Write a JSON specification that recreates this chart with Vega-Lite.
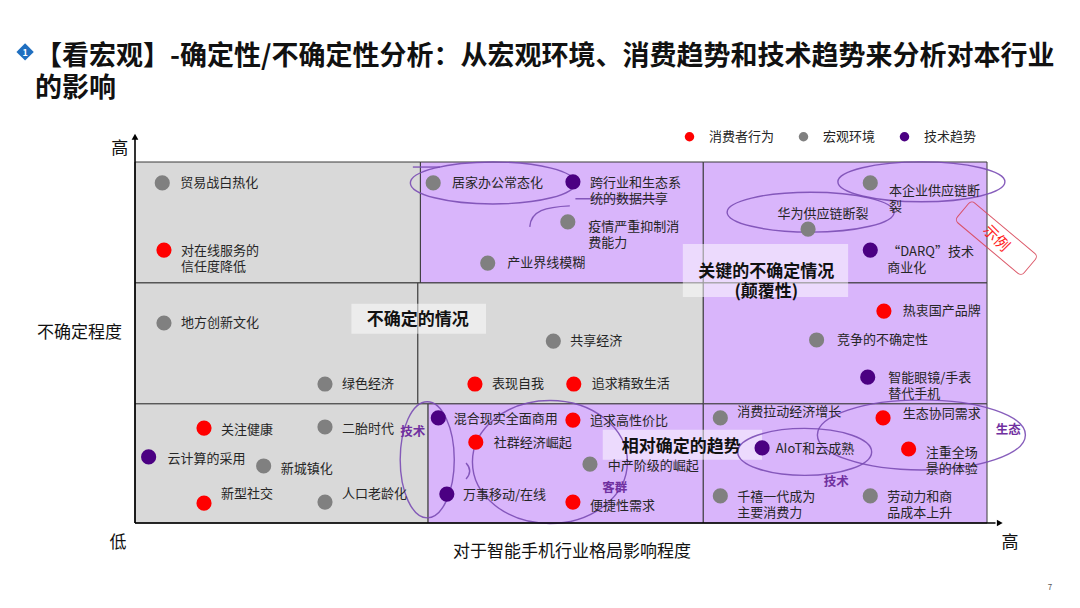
{
  "$schema": "https://vega.github.io/schema/vega-lite/v6.json",
  "width": 852,
  "height": 361,
  "autosize": {"type": "none"},
  "padding": {"left": 135, "top": 162, "right": 93, "bottom": 85},
  "background": "white",
  "config": {"view": {"stroke": null}, "font": "Noto Sans CJK SC", "text": {"font": "Noto Sans CJK SC"}},
  "title": {
    "text": ["【看宏观】-确定性/不确定性分析：从宏观环境、消费趋势和技术趋势来分析对本行业", "的影响"],
    "anchor": "start", "frame": "group", "dx": -100, "offset": -60,
    "fontSize": 27, "fontWeight": "bold", "font": "Noto Sans CJK SC", "color": "#111111", "lineHeight": 32
  },
  "datasets": {
    "cells": [
      {"x1": 0, "x2": 33.5, "y1": 66.5, "y2": 100, "kind": "灰"},
      {"x1": 33.5, "x2": 66.7, "y1": 66.5, "y2": 100, "kind": "紫"},
      {"x1": 66.7, "x2": 100, "y1": 66.5, "y2": 100, "kind": "紫"},
      {"x1": 0, "x2": 33.2, "y1": 33, "y2": 66.5, "kind": "灰"},
      {"x1": 33.2, "x2": 66.7, "y1": 33, "y2": 66.5, "kind": "灰"},
      {"x1": 66.7, "x2": 100, "y1": 33, "y2": 66.5, "kind": "紫"},
      {"x1": 0, "x2": 34.4, "y1": 0, "y2": 33, "kind": "灰"},
      {"x1": 34.4, "x2": 66.7, "y1": 0, "y2": 33, "kind": "紫"},
      {"x1": 66.7, "x2": 100, "y1": 0, "y2": 33, "kind": "紫"}
    ],
    "boxes": [
      {"x1": 64.3, "x2": 83.7, "y1": 62.6, "y2": 77.3},
      {"x1": 25.4, "x2": 41.2, "y1": 52.4, "y2": 60.7},
      {"x1": 54.9, "x2": 73.6, "y1": 17.5, "y2": 25.8}
    ],
    "notes": [
      {"x": 74.1, "y": 69.5, "text": ["关键的不确定情况", "(颠覆性)"]},
      {"x": 33.2, "y": 56.2, "text": "不确定的情况"},
      {"x": 64.1, "y": 21.1, "text": "相对确定的趋势"}
    ],
    "tags": [
      {"x": 32.6, "y": 25.2, "text": "技术"},
      {"x": 56.3, "y": 9.7, "text": "客群"},
      {"x": 102.5, "y": 25.8, "text": "生态"},
      {"x": 82.3, "y": 11.4, "text": "技术"}
    ],
    "shapes": [
      {"id": "E1", "x": 92.3, "y": 94.5},
      {"id": "E2", "x": 79.3, "y": 86.1},
      {"id": "E3", "x": 42.0, "y": 94.2},
      {"id": "E4", "x": 34.3, "y": 17.5},
      {"id": "E5", "x": 48.7, "y": 16.9},
      {"id": "E6", "x": 78.6, "y": 19.7},
      {"id": "E7", "x": 92.3, "y": 24.4},
      {"id": "A1", "x": 48.8, "y": 84.8},
      {"id": "L1", "x": 56.5, "y": 89.8},
      {"id": "L2", "x": 34.2, "y": 98.6},
      {"id": "P1", "x": 39.1, "y": 14.4}
    ],
    "points": [
      {"name": "贸易战白热化", "cat": "宏观环境", "x": 3.2, "y": 94.2, "lx": 5.3, "ly": 94.2},
      {"name": ["对在线服务的", "信任度降低"], "cat": "消费者行为", "x": 3.4, "y": 75.6, "lx": 5.4, "ly": 75.3},
      {"name": "居家办公常态化", "cat": "宏观环境", "x": 35.0, "y": 94.2, "lx": 37.2, "ly": 94.2},
      {"name": ["跨行业和生态系", "统的数据共享"], "cat": "技术趋势", "x": 51.4, "y": 94.5, "lx": 53.4, "ly": 94.2},
      {"name": ["疫情严重抑制消", "费能力"], "cat": "宏观环境", "x": 50.8, "y": 83.4, "lx": 53.2, "ly": 82.0},
      {"name": "产业界线模糊", "cat": "宏观环境", "x": 41.4, "y": 72.0, "lx": 43.7, "ly": 72.0},
      {"name": ["本企业供应链断", "裂"], "cat": "宏观环境", "x": 86.3, "y": 94.2, "lx": 88.5, "ly": 92.0},
      {"name": "华为供应链断裂", "cat": "宏观环境", "x": 79.0, "y": 81.4, "lx": 75.4, "ly": 85.6},
      {"name": ["“DARQ”技术", "商业化"], "cat": "技术趋势", "x": 86.3, "y": 75.6, "lx": 88.3, "ly": 75.1},
      {"name": "地方创新文化", "cat": "宏观环境", "x": 3.4, "y": 55.4, "lx": 5.4, "ly": 55.4},
      {"name": "绿色经济", "cat": "宏观环境", "x": 22.3, "y": 38.5, "lx": 24.3, "ly": 38.5},
      {"name": "共享经济", "cat": "宏观环境", "x": 49.1, "y": 50.4, "lx": 51.1, "ly": 50.4},
      {"name": "表现自我", "cat": "消费者行为", "x": 39.9, "y": 38.5, "lx": 41.9, "ly": 38.5},
      {"name": "追求精致生活", "cat": "消费者行为", "x": 51.5, "y": 38.5, "lx": 53.6, "ly": 38.5},
      {"name": "热衷国产品牌", "cat": "消费者行为", "x": 87.9, "y": 58.7, "lx": 90.1, "ly": 58.7},
      {"name": "竞争的不确定性", "cat": "宏观环境", "x": 80.0, "y": 50.7, "lx": 82.4, "ly": 50.7},
      {"name": ["智能眼镜/手表", "替代手机"], "cat": "技术趋势", "x": 86.0, "y": 40.4, "lx": 88.4, "ly": 40.2},
      {"name": "关注健康", "cat": "消费者行为", "x": 8.1, "y": 26.3, "lx": 10.1, "ly": 25.8},
      {"name": "二胎时代", "cat": "宏观环境", "x": 22.3, "y": 26.6, "lx": 24.3, "ly": 26.0},
      {"name": "云计算的采用", "cat": "技术趋势", "x": 1.6, "y": 18.3, "lx": 3.8, "ly": 17.7},
      {"name": "新城镇化", "cat": "宏观环境", "x": 15.1, "y": 15.8, "lx": 17.1, "ly": 15.0},
      {"name": "新型社交", "cat": "消费者行为", "x": 8.1, "y": 5.5, "lx": 10.1, "ly": 8.0},
      {"name": "人口老龄化", "cat": "宏观环境", "x": 22.3, "y": 5.8, "lx": 24.3, "ly": 8.0},
      {"name": "混合现实全面商用", "cat": "技术趋势", "x": 35.6, "y": 29.1, "lx": 37.4, "ly": 28.8},
      {"name": "追求高性价比", "cat": "消费者行为", "x": 51.4, "y": 28.5, "lx": 53.4, "ly": 28.3},
      {"name": "社群经济崛起", "cat": "消费者行为", "x": 40.0, "y": 22.4, "lx": 42.1, "ly": 22.2},
      {"name": "中产阶级的崛起", "cat": "宏观环境", "x": 53.4, "y": 16.3, "lx": 55.5, "ly": 15.8},
      {"name": "万事移动/在线", "cat": "技术趋势", "x": 36.6, "y": 8.0, "lx": 38.5, "ly": 7.8},
      {"name": "便捷性需求", "cat": "消费者行为", "x": 51.4, "y": 5.8, "lx": 53.4, "ly": 4.7},
      {"name": "消费拉动经济增长", "cat": "宏观环境", "x": 68.7, "y": 29.1, "lx": 70.7, "ly": 30.7},
      {"name": "生态协同需求", "cat": "消费者行为", "x": 87.8, "y": 29.1, "lx": 90.1, "ly": 30.2},
      {"name": "AIoT和云成熟", "cat": "技术趋势", "x": 73.6, "y": 20.8, "lx": 75.2, "ly": 20.5},
      {"name": ["注重全场", "景的体验"], "cat": "消费者行为", "x": 90.8, "y": 20.5, "lx": 92.8, "ly": 19.4},
      {"name": ["千禧一代成为", "主要消费力"], "cat": "宏观环境", "x": 68.7, "y": 7.5, "lx": 70.7, "ly": 7.2},
      {"name": ["劳动力和商", "品成本上升"], "cat": "宏观环境", "x": 86.3, "y": 7.5, "lx": 88.3, "ly": 7.2}
    ],
    "axisLines": [
      {"x1": 0, "y1": 0, "x2": 101.0, "y2": 0},
      {"x1": 0, "y1": 0, "x2": 0, "y2": 106.5}
    ],
    "axisText": [
      {"x": -1.8, "y": 103.6, "text": "高"},
      {"x": -2.0, "y": -5.5, "text": "低"},
      {"x": 102.7, "y": -5.5, "text": "高"},
      {"x": -6.5, "y": 52.6, "text": "不确定程度"},
      {"x": 51.3, "y": -8.0, "text": "对于智能手机行业格局影响程度"}
    ]
  },
  "layer": [
    {
      "data": {"name": "cells"},
      "mark": {"type": "rect", "stroke": "#3a3a3a", "strokeWidth": 1},
      "encoding": {
        "x": {"field": "x1", "type": "quantitative", "scale": {"domain": [0, 100], "nice": false, "zero": false}, "axis": null},
        "x2": {"field": "x2"},
        "y": {"field": "y1", "type": "quantitative", "scale": {"domain": [0, 100], "nice": false, "zero": false}, "axis": null},
        "y2": {"field": "y2"},
        "fill": {"field": "kind", "type": "nominal", "scale": {"domain": ["灰", "紫"], "range": ["#d9d9d9", "#d9b5fb"]}, "legend": null}
      }
    },
    {
      "data": {"name": "boxes"},
      "mark": {"type": "rect", "color": "#ffffff", "opacity": 0.5},
      "encoding": {
        "x": {"field": "x1", "type": "quantitative", "scale": {"domain": [0, 100], "nice": false, "zero": false}, "axis": null},
        "x2": {"field": "x2"},
        "y": {"field": "y1", "type": "quantitative", "scale": {"domain": [0, 100], "nice": false, "zero": false}, "axis": null},
        "y2": {"field": "y2"}
      }
    },
    {
      "data": {"name": "shapes"},
      "mark": {"type": "point", "filled": false, "color": "#7b4db5", "strokeWidth": 1.4, "size": 43264, "opacity": 0.9},
      "encoding": {
        "x": {"field": "x", "type": "quantitative", "scale": {"domain": [0, 100], "nice": false, "zero": false}, "axis": null},
        "y": {"field": "y", "type": "quantitative", "scale": {"domain": [0, 100], "nice": false, "zero": false}, "axis": null},
        "shape": {
          "field": "id", "type": "nominal", "legend": null,
          "scale": {
            "domain": ["E1", "E2", "E3", "E4", "E5", "E6", "E7", "A1", "L1", "L2", "P1"],
            "range": [
              "M -0.803 0 A 0.803 0.192 0 1 0 0.803 0 A 0.803 0.192 0 1 0 -0.803 0 Z",
              "M -0.803 0 A 0.803 0.192 0 1 0 0.803 0 A 0.803 0.192 0 1 0 -0.803 0 Z",
              "M -0.793 0 A 0.793 0.202 0 1 0 0.793 0 A 0.793 0.202 0 1 0 -0.793 0 Z",
              "M -0.26 0 A 0.26 0.558 0 1 0 0.26 0 A 0.26 0.558 0 1 0 -0.26 0 Z",
              "M -0.745 0 A 0.745 0.591 0 1 0 0.745 0 A 0.745 0.591 0 1 0 -0.745 0 Z",
              "M -0.644 0 A 0.644 0.226 0 1 0 0.644 0 A 0.644 0.226 0 1 0 -0.644 0 Z",
              "M -1 0 A 1 0.337 0 1 0 1 0 A 1 0.337 0 1 0 -1 0 Z",
              "M -0.202 0.096 C -0.192 -0.058 -0.048 -0.096 0.183 -0.106",
              "M -0.394 0 L 0.394 0",
              "M -0.13 0 L 0.13 0",
              "M -0.02 -0.077 Q 0.05 0 -0.02 0.077"
            ]
          }
        }
      }
    },
    {
      "data": {"name": "points"},
      "mark": {"type": "point", "filled": true, "size": 230, "opacity": 1, "strokeWidth": 0},
      "encoding": {
        "x": {"field": "x", "type": "quantitative", "scale": {"domain": [0, 100], "nice": false, "zero": false}, "axis": null},
        "y": {"field": "y", "type": "quantitative", "scale": {"domain": [0, 100], "nice": false, "zero": false}, "axis": null},
        "color": {
          "field": "cat", "type": "nominal",
          "scale": {"domain": ["消费者行为", "宏观环境", "技术趋势"], "range": ["#ff0000", "#808080", "#4b0082"]},
          "legend": {
            "title": null, "orient": "none", "direction": "horizontal", "legendX": 548, "legendY": -32,
            "symbolSize": 90, "symbolType": "circle", "symbolOpacity": 1, "symbolStrokeWidth": 0,
            "labelFontSize": 13, "labelFont": "Noto Sans CJK SC", "labelColor": "#262626",
            "labelOffset": 13, "columnPadding": 22, "padding": 0
          }
        }
      }
    },
    {
      "data": {"name": "points"},
      "mark": {"type": "text", "align": "left", "baseline": "middle", "fontSize": 13, "color": "#262626", "lineHeight": 16},
      "encoding": {
        "x": {"field": "lx", "type": "quantitative", "scale": {"domain": [0, 100], "nice": false, "zero": false}, "axis": null},
        "y": {"field": "ly", "type": "quantitative", "scale": {"domain": [0, 100], "nice": false, "zero": false}, "axis": null},
        "text": {"field": "name", "type": "nominal"}
      }
    },
    {
      "data": {"name": "notes"},
      "mark": {"type": "text", "align": "center", "baseline": "middle", "fontSize": 17, "fontWeight": "bold", "color": "#111111", "lineHeight": 20},
      "encoding": {
        "x": {"field": "x", "type": "quantitative", "scale": {"domain": [0, 100], "nice": false, "zero": false}, "axis": null},
        "y": {"field": "y", "type": "quantitative", "scale": {"domain": [0, 100], "nice": false, "zero": false}, "axis": null},
        "text": {"field": "text", "type": "nominal"}
      }
    },
    {
      "data": {"name": "tags"},
      "mark": {"type": "text", "align": "center", "baseline": "middle", "fontSize": 12.5, "fontWeight": "bold", "color": "#7030a0"},
      "encoding": {
        "x": {"field": "x", "type": "quantitative", "scale": {"domain": [0, 100], "nice": false, "zero": false}, "axis": null},
        "y": {"field": "y", "type": "quantitative", "scale": {"domain": [0, 100], "nice": false, "zero": false}, "axis": null},
        "text": {"field": "text", "type": "nominal"}
      }
    },
    {
      "data": {"name": "axisLines"},
      "mark": {"type": "rule", "color": "#000000", "strokeWidth": 1.6},
      "encoding": {
        "x": {"field": "x1", "type": "quantitative", "scale": {"domain": [0, 100], "nice": false, "zero": false}, "axis": null},
        "x2": {"field": "x2"},
        "y": {"field": "y1", "type": "quantitative", "scale": {"domain": [0, 100], "nice": false, "zero": false}, "axis": null},
        "y2": {"field": "y2"}
      }
    },
    {
      "data": {"values": [{"x": 101.5, "y": 0}]},
      "mark": {"type": "point", "shape": "triangle-right", "filled": true, "color": "#000000", "size": 45, "opacity": 1},
      "encoding": {
        "x": {"field": "x", "type": "quantitative", "scale": {"domain": [0, 100], "nice": false, "zero": false}, "axis": null},
        "y": {"field": "y", "type": "quantitative", "scale": {"domain": [0, 100], "nice": false, "zero": false}, "axis": null}
      }
    },
    {
      "data": {"values": [{"x": 0, "y": 107.0}]},
      "mark": {"type": "point", "shape": "triangle-up", "filled": true, "color": "#000000", "size": 45, "opacity": 1},
      "encoding": {
        "x": {"field": "x", "type": "quantitative", "scale": {"domain": [0, 100], "nice": false, "zero": false}, "axis": null},
        "y": {"field": "y", "type": "quantitative", "scale": {"domain": [0, 100], "nice": false, "zero": false}, "axis": null}
      }
    },
    {
      "data": {"name": "axisText"},
      "mark": {"type": "text", "align": "center", "baseline": "middle", "fontSize": 17, "color": "#111111"},
      "encoding": {
        "x": {"field": "x", "type": "quantitative", "scale": {"domain": [0, 100], "nice": false, "zero": false}, "axis": null},
        "y": {"field": "y", "type": "quantitative", "scale": {"domain": [0, 100], "nice": false, "zero": false}, "axis": null},
        "text": {"field": "text", "type": "nominal"}
      }
    },
    {
      "data": {"values": [{"x": 101.1, "y": 78.9, "text": "示例"}]},
      "mark": {"type": "point", "filled": false, "color": "#d9485a", "strokeWidth": 1, "size": 7569, "angle": 40, "opacity": 0.9,
        "shape": "M -0.9 -0.3 L 0.9 -0.3 A 0.1 0.1 0 0 1 1 -0.2 L 1 0.2 A 0.1 0.1 0 0 1 0.9 0.3 L -0.9 0.3 A 0.1 0.1 0 0 1 -1 0.2 L -1 -0.2 A 0.1 0.1 0 0 1 -0.9 -0.3 Z"},
      "encoding": {
        "x": {"field": "x", "type": "quantitative", "scale": {"domain": [0, 100], "nice": false, "zero": false}, "axis": null},
        "y": {"field": "y", "type": "quantitative", "scale": {"domain": [0, 100], "nice": false, "zero": false}, "axis": null}
      }
    },
    {
      "data": {"values": [{"x": 101.1, "y": 78.9, "text": "示例"}]},
      "mark": {"type": "text", "align": "center", "baseline": "middle", "fontSize": 15, "color": "#ff1a1a", "angle": 45},
      "encoding": {
        "x": {"field": "x", "type": "quantitative", "scale": {"domain": [0, 100], "nice": false, "zero": false}, "axis": null},
        "y": {"field": "y", "type": "quantitative", "scale": {"domain": [0, 100], "nice": false, "zero": false}, "axis": null},
        "text": {"field": "text", "type": "nominal"}
      }
    },
    {
      "data": {"values": [{"x": -12.9, "y": 130.5, "text": "1"}]},
      "mark": {"type": "point", "shape": "diamond", "filled": true, "color": "#1f6fc0", "size": 300, "opacity": 1},
      "encoding": {
        "x": {"field": "x", "type": "quantitative", "scale": {"domain": [0, 100], "nice": false, "zero": false}, "axis": null},
        "y": {"field": "y", "type": "quantitative", "scale": {"domain": [0, 100], "nice": false, "zero": false}, "axis": null}
      }
    },
    {
      "data": {"values": [{"x": -12.9, "y": 130.3, "text": "1"}]},
      "mark": {"type": "text", "align": "center", "baseline": "middle", "fontSize": 9, "fontWeight": "bold", "color": "#ffffff"},
      "encoding": {
        "x": {"field": "x", "type": "quantitative", "scale": {"domain": [0, 100], "nice": false, "zero": false}, "axis": null},
        "y": {"field": "y", "type": "quantitative", "scale": {"domain": [0, 100], "nice": false, "zero": false}, "axis": null},
        "text": {"field": "text", "type": "nominal"}
      }
    },
    {
      "data": {"values": [{"x": 107.4, "y": -18.0, "text": "7"}]},
      "mark": {"type": "text", "align": "center", "baseline": "middle", "fontSize": 8, "color": "#595959"},
      "encoding": {
        "x": {"field": "x", "type": "quantitative", "scale": {"domain": [0, 100], "nice": false, "zero": false}, "axis": null},
        "y": {"field": "y", "type": "quantitative", "scale": {"domain": [0, 100], "nice": false, "zero": false}, "axis": null},
        "text": {"field": "text", "type": "nominal"}
      }
    }
  ]
}
